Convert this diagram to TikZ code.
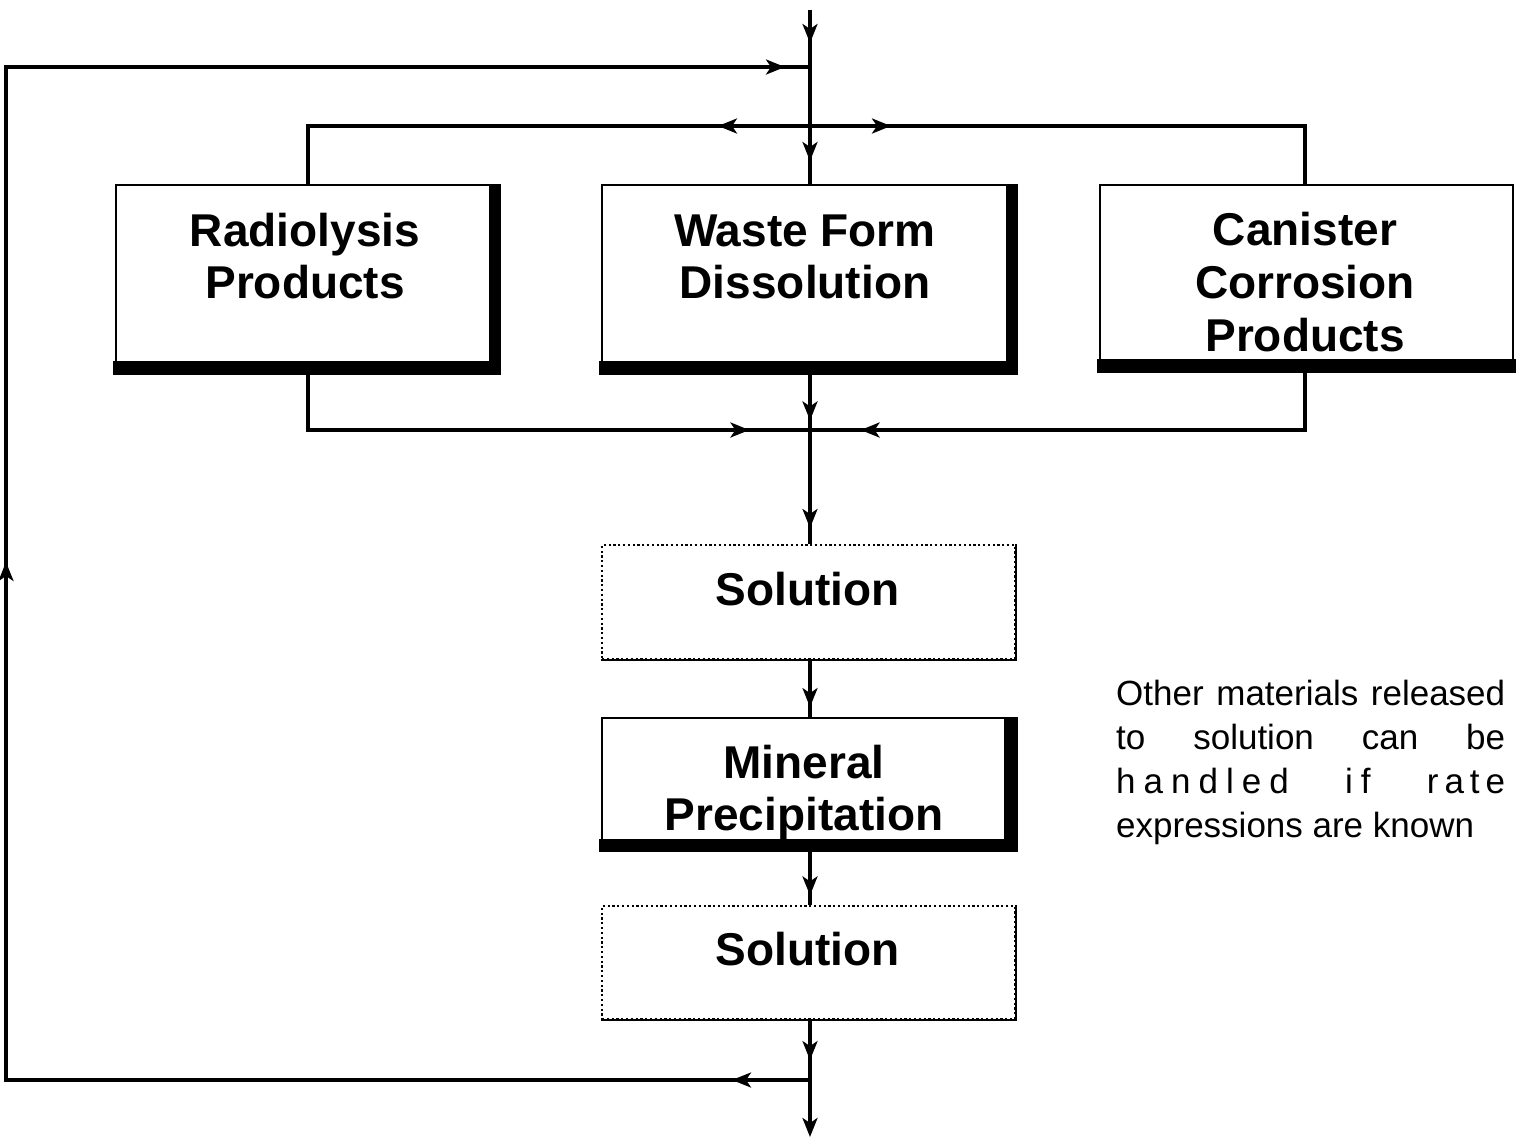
\documentclass[tikz,border=0pt]{standalone}
\usepackage{fontspec}
\setmainfont{Liberation Sans}
\usetikzlibrary{arrows.meta,decorations.markings}
\tikzset{
  flowtip/.tip={Stealth[length=19pt,width=15pt,inset=5pt]},
  flow/.style={line width=3.2pt, line join=miter},
  markat/.style={postaction={decorate,decoration={markings,mark=at position #1 with {\arrow{flowtip}}}}},
  solidbox/.style={draw, line width=2.8pt, fill=white, inner sep=0pt},
  dotbox/.style={draw, line width=2.2pt, dash pattern=on 2.2pt off 2.6pt, fill=white, inner sep=0pt},
  shadowfill/.style={fill=black},
  boxtext/.style={font=\bfseries\fontsize{46}{#1}\selectfont, align=center, inner sep=0pt},
  notetext/.style={font=\fontsize{35}{44}\selectfont, align=left, inner sep=0pt, anchor=north west}
}
\begin{document}
\begin{tikzpicture}[x=1pt,y=-1pt]
\useasboundingbox (0,0) rectangle (1516,1138);

% boxes
\node[solidbox, minimum width=382pt, minimum height=187pt] (radio) at (307,278.5) {};
\node[solidbox, minimum width=413pt, minimum height=187pt] (waste) at (808.5,278.5) {};
\node[solidbox, minimum width=413pt, minimum height=185pt] (canister) at (1306.5,277.5) {};
\node[dotbox, minimum width=413pt, minimum height=114pt] (sol1) at (808.5,602) {};
\node[solidbox, minimum width=413pt, minimum height=131pt] (mineral) at (808.5,783.5) {};
\node[dotbox, minimum width=413pt, minimum height=113pt] (sol2) at (808.5,962.5) {};

% shadows
\fill[shadowfill] ([shift={(-10,0)}]radio.north east) rectangle ([shift={(1.4,1.4)}]radio.south east);
\fill[shadowfill] ([shift={(-1.4,-12)}]radio.south west) rectangle ([shift={(1.4,1.4)}]radio.south east);
\fill[shadowfill] ([shift={(-10,0)}]waste.north east) rectangle ([shift={(1.4,1.4)}]waste.south east);
\fill[shadowfill] ([shift={(-1.4,-12)}]waste.south west) rectangle ([shift={(1.4,1.4)}]waste.south east);
\fill[shadowfill] ([shift={(-1.4,-12)}]canister.south west) rectangle ([shift={(1.4,1.4)}]canister.south east);
\fill[shadowfill] ([shift={(-12,0)}]mineral.north east) rectangle ([shift={(1.4,1.4)}]mineral.south east);
\fill[shadowfill] ([shift={(-1.4,-11)}]mineral.south west) rectangle ([shift={(1.4,1.4)}]mineral.south east);
\draw[line width=1.8pt] (sol1.north east) -- (sol1.south east) -- (sol1.south west);
\draw[line width=1.8pt] (sol2.north east) -- (sol2.south east) -- (sol2.south west);

% box texts
\node[boxtext=52] (radioT) at (305,256.5) {Radiolysis\\Products};
\node[boxtext=52] (wasteT) at (805,256.5) {Waste Form\\Dissolution};
\node[boxtext=53] (canT) at (1305,282) {Canister\\Corrosion\\Products};
\node[boxtext=52] (sol1T) at (807.5,588.6) {Solution};
\node[boxtext=52] (minT) at (804,792.6) {Mineral\\Precipitation};
\node[boxtext=52] (sol2T) at (807.5,948.6) {Solution};

% note
\node[notetext] (note) at (1116,680) {%
\makebox[389pt][s]{Other materials released}\\
\makebox[389pt][s]{to solution can be}\\
\makebox[389pt][s]{h\hspace{8pt}a\hspace{8pt}n\hspace{8pt}d\hspace{8pt}l\hspace{8pt}e\hspace{8pt}d\hfill i\hspace{8pt}f\hfill r\hspace{6pt}a\hspace{6pt}t\hspace{6pt}e}\\
expressions are known};

% junction coordinates
\coordinate (top) at (810,10);
\coordinate (jtop) at (810,67);
\coordinate (jsplit) at (810,126);
\coordinate (sl) at (308,126);
\coordinate (sr) at (1305,126);
\coordinate (jmerge) at (810,430);
\coordinate (ml) at (308,430);
\coordinate (mr) at (1305,430);
\coordinate (jbot) at (810,1080);
\coordinate (bot) at (810,1137);
\coordinate (fbl) at (6,1080);
\coordinate (ftl) at (6,67);

% connectors
\draw[flow, markat=33pt] (top) -- (jtop);
\draw[flow] (jtop) -- (jsplit);
\draw[flow, markat=35pt] (jsplit) -- (jsplit |- waste.north);
\draw[flow, markat=92pt] (jsplit) -- (sl) -- (sl |- radio.north);
\draw[flow, markat=81pt] (jsplit) -- (sr) -- (sr |- canister.north);
\draw[flow, markat=47pt] (jmerge |- waste.south) -- (jmerge);
\draw[flow, markat=498pt] (ml |- radio.south) -- (ml) -- (jmerge);
\draw[flow, markat=503pt] (mr |- canister.south) -- (mr) -- (jmerge);
\draw[flow, markat=98pt] (jmerge) -- (jmerge |- sol1.north);
\draw[flow, markat=47pt] (jmerge |- sol1.south) -- (jmerge |- mineral.north);
\draw[flow, markat=45pt] (jmerge |- mineral.south) -- (jmerge |- sol2.north);
\draw[flow, markat=40pt] (jmerge |- sol2.south) -- (jbot);
\draw[flow, -{flowtip}] (jbot) -- (bot);
\draw[flow, markat=78pt, markat=1322pt, markat=2596pt] (jbot) -- (fbl) -- (ftl) -- (jtop);
\end{tikzpicture}
\end{document}
